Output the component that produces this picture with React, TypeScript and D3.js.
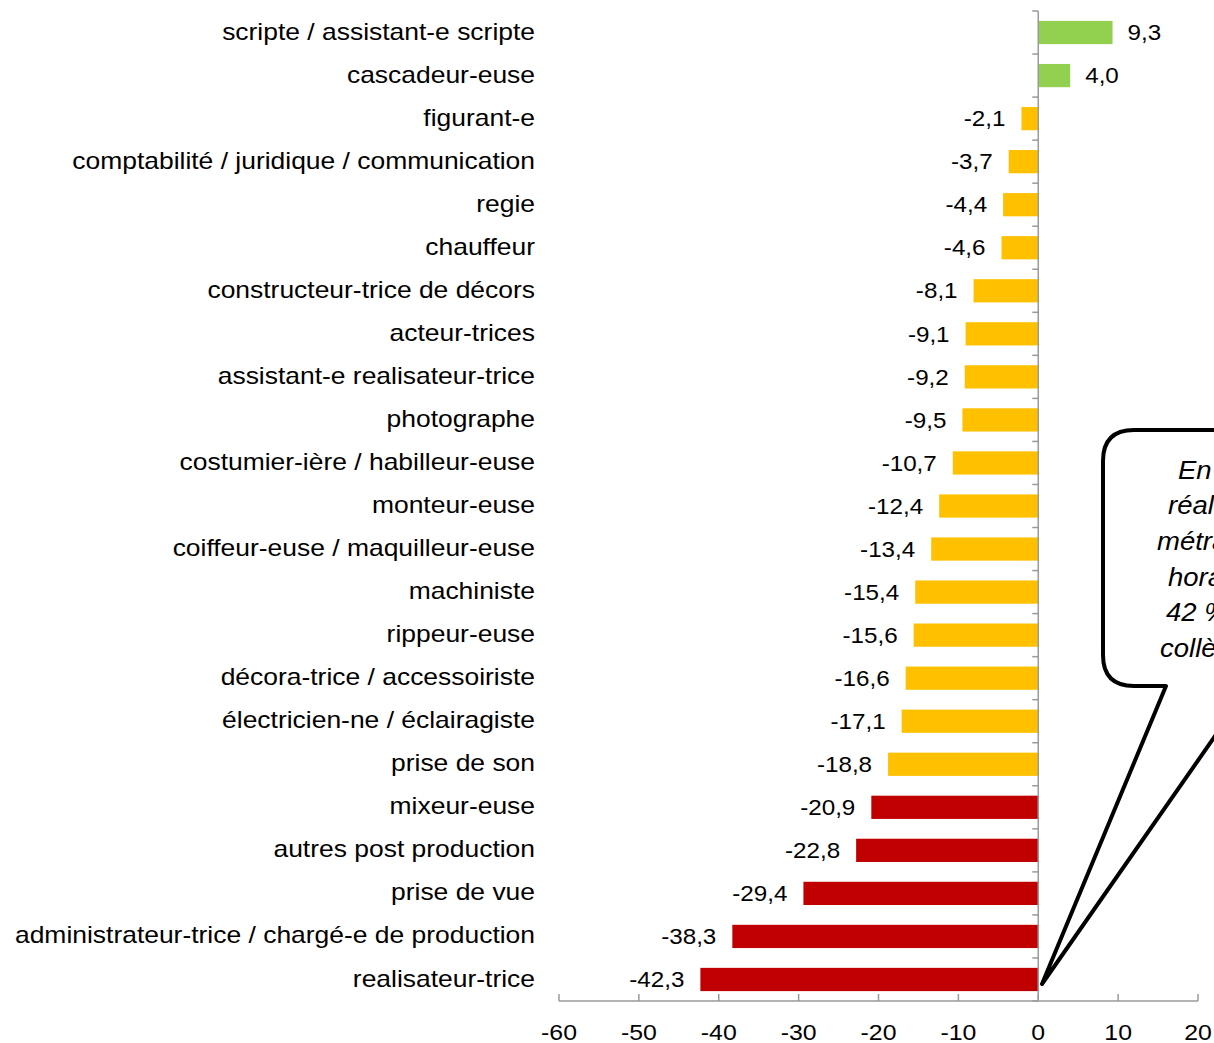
import * as React from 'react';
import * as d3 from 'd3';

const categories = [
  'scripte / assistant-e scripte',
  'cascadeur-euse',
  'figurant-e',
  'comptabilité / juridique / communication',
  'regie',
  'chauffeur',
  'constructeur-trice de décors',
  'acteur-trices',
  'assistant-e realisateur-trice',
  'photographe',
  'costumier-ière / habilleur-euse',
  'monteur-euse',
  'coiffeur-euse / maquilleur-euse',
  'machiniste',
  'rippeur-euse',
  'décora-trice / accessoiriste',
  'électricien-ne / éclairagiste',
  'prise de son',
  'mixeur-euse',
  'autres post production',
  'prise de vue',
  'administrateur-trice / chargé-e de production',
  'realisateur-trice',
];

const values = [
  9.3, 4.0, -2.1, -3.7, -4.4, -4.6, -8.1, -9.1, -9.2, -9.5, -10.7, -12.4, -13.4,
  -15.4, -15.6, -16.6, -17.1, -18.8, -20.9, -22.8, -29.4, -38.3, -42.3,
];

const xTicks = [-60, -50, -40, -30, -20, -10, 0, 10, 20];

// callout text (cut by the right edge of the picture), with each line's left start
const calloutLines = [
  'En moyenne, les',
  'réalisatrices de long',
  'métrage ont un taux',
  'horaire inférieur de',
  '42 % à celui de leurs',
  'collègues masculins',
];
const calloutStarts = [1178, 1168, 1157, 1168, 1166, 1160];

const W = 1214;
const H = 1043;
const FONT = 'Liberation Sans, Arial, Helvetica, sans-serif';

const colorFor = (v: number) => (v > 0 ? '#92D050' : v > -20 ? '#FFC000' : '#C00000');
const fmt = (v: number) => v.toFixed(1).replace('.', ',');

// text slightly stretched horizontally, like the reference
const Stretch = ({ x, y, sx, anchor, size, italic, children }: any) => (
  <text
    transform={`translate(${x},${y}) scale(${sx},1)`}
    dy="0.35em"
    textAnchor={anchor}
    fontSize={size}
    fontStyle={italic ? 'italic' : 'normal'}
    fill="#000"
  >
    {children}
  </text>
);

export default function App() {
  const x = d3.scaleLinear().domain([-60, 20]).range([559, 1198]);
  const top = 11;
  const axisY = 1001;
  const y = d3.scaleBand<string>().domain(categories).range([top, axisY]).paddingInner(0.46).paddingOuter(0.23);
  const bandStep = y.step();
  const x0 = x(0);
  const axisColor = '#9a9a9a';

  return (
    <svg
      width={W}
      height={H}
      style={{ position: 'absolute', left: 0, top: 0, background: '#fff' }}
      fontFamily={FONT}
    >
      {/* bars */}
      {values.map((v, i) => {
        const c = categories[i];
        return (
          <rect
            key={c}
            x={Math.min(x(v), x0)}
            y={y(c) ?? 0}
            width={Math.abs(x(v) - x0)}
            height={y.bandwidth()}
            fill={colorFor(v)}
          />
        );
      })}

      {/* value labels */}
      {values.map((v, i) => {
        const c = categories[i];
        const cy = (y(c) ?? 0) + y.bandwidth() / 2;
        return (
          <Stretch
            key={'v' + c}
            x={v >= 0 ? x(v) + 15 : x(v) - 16}
            y={cy}
            sx={1.1}
            anchor={v >= 0 ? 'start' : 'end'}
            size={22}
          >
            {fmt(v)}
          </Stretch>
        );
      })}

      {/* category labels */}
      {categories.map((c) => (
        <Stretch key={'c' + c} x={535} y={(y(c) ?? 0) + y.bandwidth() / 2 - 1} sx={1.15} anchor="end" size={23}>
          {c}
        </Stretch>
      ))}

      {/* vertical axis at 0 */}
      <line x1={x0} x2={x0} y1={top} y2={axisY} stroke={axisColor} strokeWidth={1.5} />
      {d3.range(categories.length + 1).map((k) => (
        <line
          key={'yt' + k}
          x1={x0 - 6}
          x2={x0}
          y1={top + k * bandStep}
          y2={top + k * bandStep}
          stroke={axisColor}
          strokeWidth={1.5}
        />
      ))}

      {/* horizontal axis */}
      <line x1={x(-60)} x2={x(20)} y1={axisY} y2={axisY} stroke={axisColor} strokeWidth={1.5} />
      {xTicks.map((t) => (
        <g key={'xt' + t}>
          <line x1={x(t)} x2={x(t)} y1={axisY - 7} y2={axisY} stroke={axisColor} strokeWidth={1.5} />
          <Stretch x={x(t)} y={1032} sx={1.13} anchor="middle" size={22}>
            {t}
          </Stretch>
        </g>
      ))}

      {/* callout */}
      <path
        d="M1134,430 H1440 V686 H1250 L1042,984 L1166,686 H1134 Q1103,686 1103,655 V461 Q1103,430 1134,430 Z"
        fill="#fff"
        stroke="#000"
        strokeWidth={4}
        strokeLinejoin="round"
      />
      {calloutLines.map((l, i) => (
        <Stretch key={'cl' + i} x={calloutStarts[i]} y={470 + i * 35.6} sx={1.1} anchor="start" size={25} italic>
          {l}
        </Stretch>
      ))}
    </svg>
  );
}
